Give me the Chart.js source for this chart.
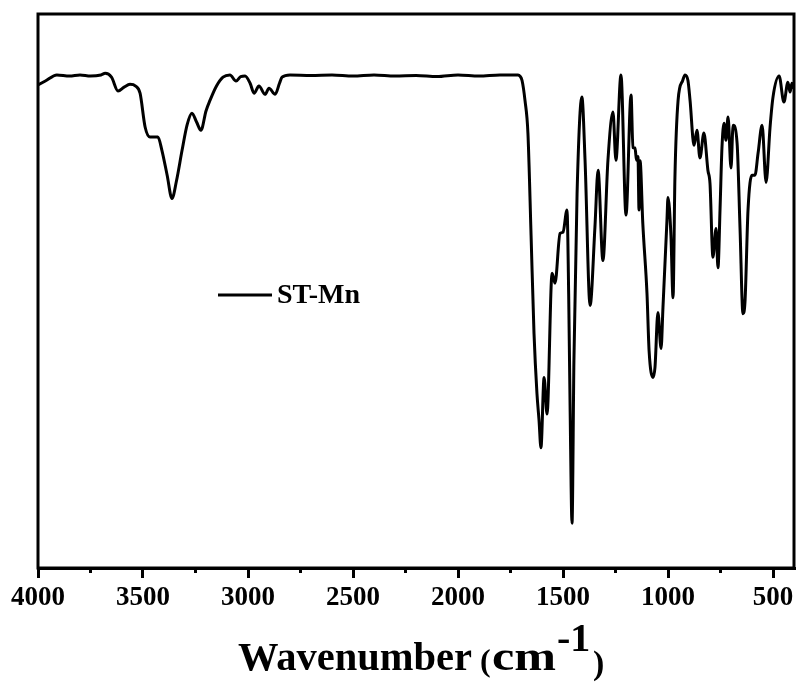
<!DOCTYPE html>
<html>
<head>
<meta charset="utf-8">
<script src="https://cdn.jsdelivr.net/npm/chart.js@4.4.1/dist/chart.umd.min.js"></script>
<style>
    body { margin: 0; background: #fff; }
    #wrap { position: relative; width: 797px; height: 682px; }
</style>
</head>
<body>
<div id="wrap"><canvas id="IrChart"></canvas></div>
<script>
// FTIR spectrum, ST-Mn

const wavenumbers = [4000, 3965, 3910, 3850, 3800, 3750, 3700, 3680, 3650, 3619, 3590, 3562, 3535, 3514,
    3490, 3467, 3429, 3410, 3385, 3362, 3340, 3314, 3290, 3267, 3245, 3224, 3200, 3181, 3150, 3119,
    3086, 3057, 3035, 3014, 2990, 2971, 2948, 2919, 2900, 2871, 2850, 2838, 2800, 2700, 2600, 2500,
    2400, 2300, 2200, 2100, 2000, 1900, 1800, 1714, 1705, 1695, 1681, 1667, 1652, 1638, 1624, 1614,
    1605, 1590, 1576, 1552, 1538, 1514, 1500, 1481, 1473, 1466, 1457, 1448, 1433, 1410, 1395, 1371,
    1348, 1333, 1310, 1286, 1262, 1248, 1224, 1200, 1176, 1167, 1157, 1150, 1143, 1138, 1133, 1120,
    1100, 1090, 1071, 1062, 1048, 1033, 1024, 1005, 1000, 986, 976, 967, 952, 930, 919, 905,
    895, 876, 862, 848, 829, 810, 800, 786, 771, 762, 752, 743, 733, 724, 714, 700,
    690, 671, 657, 643, 633, 619, 600, 586, 571, 552, 533, 514, 500, 471, 448, 429,
    419, 410, 400];

const transmittance = [87.2, 87.9, 89.0, 88.8, 89.0, 88.8, 89.0, 89.3, 88.6, 86.1, 86.8, 87.3, 87.0, 85.7,
    79.6, 77.8, 77.8, 75.4, 70.9, 66.7, 70.0, 75.4, 80.0, 82.1, 80.5, 79.0, 82.5, 84.4, 87.0, 88.6,
    89.0, 87.9, 88.7, 88.8, 87.5, 85.7, 87.0, 85.5, 86.6, 85.5, 87.5, 88.6, 89.0, 88.9, 89.0, 88.8,
    89.0, 88.8, 88.9, 88.7, 89.0, 88.8, 89.0, 89.0, 88.8, 88.0, 84.4, 78.5, 60.0, 42.3, 31.5, 26.6,
    21.7, 34.4, 27.8, 53.2, 51.4, 60.4, 60.6, 64.6, 49.5, 28.4, 8.1, 37.4, 67.6, 85.0, 73.6, 47.4,
    61.5, 71.8, 55.5, 73.6, 82.3, 73.6, 89.0, 63.7, 85.4, 75.9, 75.8, 73.6, 74.3, 64.6, 73.5, 62.2,
    49.5, 39.2, 34.4, 36.2, 46.1, 39.6, 47.0, 62.7, 66.9, 60.0, 48.8, 70.5, 84.4, 88.0, 89.0, 88.0,
    84.4, 76.3, 79.0, 74.0, 78.5, 71.8, 69.4, 56.1, 61.3, 54.2, 65.0, 75.9, 80.3, 77.2, 81.4, 72.2,
    79.9, 76.7, 61.3, 45.9, 48.3, 64.6, 70.9, 70.9, 74.9, 79.9, 69.6, 79.6, 85.0, 88.8, 84.1, 87.7,
    85.9, 87.5, 86.5];

const xTicks = [4000, 3500, 3000, 2500, 2000, 1500, 1000, 500];
const xMinorTicks = [3750, 3250, 2750, 2250, 1750, 1250, 750];
const seriesName = 'ST-Mn';

const serif = "'Liberation Serif', 'Times New Roman', serif";

// box round the plot, minor ticks, legend and the axis title
const decorations = {
    id: 'decorations',
    afterDraw(chart) {
        const ctx = chart.ctx;
        const a = chart.chartArea;
        const xs = chart.scales.x;

        ctx.save();
        ctx.strokeStyle = '#000';
        ctx.lineWidth = 3;
        ctx.strokeRect(a.left, a.top, a.right - a.left, a.bottom - a.top);

        xMinorTicks.forEach(v => {
            const px = xs.getPixelForValue(v);
            ctx.beginPath();
            ctx.moveTo(px, a.bottom);
            ctx.lineTo(px, a.bottom + 5);
            ctx.stroke();
        });

        // legend
        ctx.beginPath();
        ctx.moveTo(218, 295);
        ctx.lineTo(272, 295);
        ctx.stroke();
        ctx.fillStyle = '#000';
        ctx.textBaseline = 'middle';
        ctx.textAlign = 'left';
        ctx.font = 'bold 28px ' + serif;
        ctx.fillText(seriesName, 277, 296);

        // x axis title, mixed sizes; w = width to fit
        const parts = [
            { t: 'Wavenumber', size: 40.5, x: 238, y: 670 },
            { t: '(', size: 32, x: 480, y: 671 },
            { t: 'cm', size: 43, x: 492, y: 670, w: 64 },
            { t: '-1', size: 40, x: 557, y: 651 },
            { t: ')', size: 34, x: 593, y: 674 }
        ];
        ctx.textBaseline = 'alphabetic';
        parts.forEach(p => {
            ctx.font = 'bold ' + p.size + 'px ' + serif;
            if (p.w) {
                const sx = p.w / ctx.measureText(p.t).width;
                ctx.save();
                ctx.translate(p.x, p.y);
                ctx.scale(sx, 1);
                ctx.fillText(p.t, 0, 0);
                ctx.restore();
            } else {
                ctx.fillText(p.t, p.x, p.y);
            }
        });
        ctx.restore();
    }
};

new Chart(document.getElementById('IrChart'), {
    type: 'line',
    data: {
        datasets: [{
            label: seriesName,
            data: wavenumbers.map((w, i) => ({ x: w, y: transmittance[i] })),
            borderColor: '#000',
            borderWidth: 3,
            pointRadius: 0,
            cubicInterpolationMode: 'monotone',
            fill: false
        }]
    },
    options: {
        responsive: true,
        maintainAspectRatio: false,
        animation: false,
        layout: { padding: { left: 38, top: 14, right: 3, bottom: 63 } },
        plugins: {
            legend: { display: false },
            tooltip: { enabled: false }
        },
        scales: {
            x: {
                type: 'linear',
                reverse: true,
                min: 400,
                max: 4000,
                afterBuildTicks: scale => {
                    scale.ticks = xTicks.map(v => ({ value: v }))
                },
                grid: { display: true, drawOnChartArea: false, drawTicks: true, tickLength: 10, color: '#000', lineWidth: 3 },
                border: { display: true, color: '#000', width: 3 },
                ticks: {
                    color: '#000',
                    padding: 2,
                    autoSkip: false,
                    maxRotation: 0,
                    font: { family: serif, size: 27, weight: 'bold', lineHeight: 1.37 },
                    callback: v => String(v)
                }
            },
            y: {
                display: false,
                min: 0,
                max: 100
            }
        }
    },
    plugins: [decorations]
});
</script>
</body>
</html>
